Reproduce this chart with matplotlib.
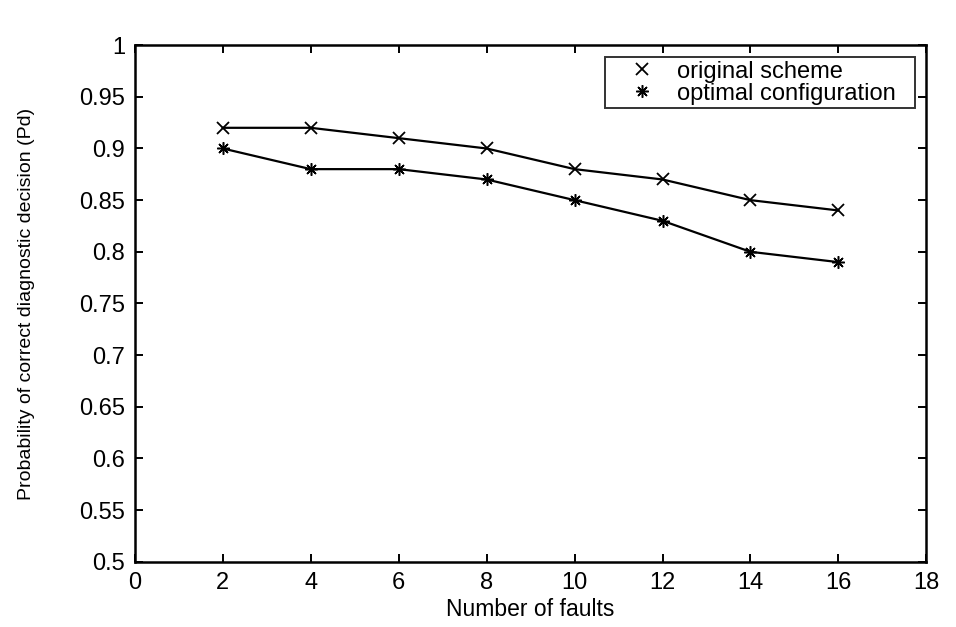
"""Probability of correct diagnostic decision vs number of faults."""
import matplotlib
matplotlib.use("Agg")
import matplotlib.pyplot as plt

plt.rcParams["font.family"] = ["Liberation Sans", "DejaVu Sans"]

faults = [2, 4, 6, 8, 10, 12, 14, 16]
pd_original = [0.92, 0.92, 0.91, 0.90, 0.88, 0.87, 0.85, 0.84]
pd_optimal = [0.90, 0.88, 0.88, 0.87, 0.85, 0.83, 0.80, 0.79]

fig = plt.figure(figsize=(9.56, 6.27), dpi=100)
ax = fig.add_axes([0.141, 0.104, 0.828, 0.824])

# lines and markers drawn separately so the legend shows markers only
ax.plot(faults, pd_original, color="black", linewidth=1.6)
ax.plot(faults, pd_optimal, color="black", linewidth=1.6)
ax.plot(faults, pd_original, "x", color="black", markersize=8,
        markeredgewidth=1.3, label="original scheme")
ax.plot(faults, pd_optimal, marker=(8, 2, 0), linestyle="none", color="black",
        markersize=9, markeredgewidth=1.1, label="optimal configuration")

ax.set_xlim(0, 18)
ax.set_ylim(0.5, 1.0)
ax.set_xticks(range(0, 19, 2))
ax.set_yticks([0.5, 0.55, 0.6, 0.65, 0.7, 0.75, 0.8, 0.85, 0.9, 0.95, 1.0])
ax.set_yticklabels(["0.5", "0.55", "0.6", "0.65", "0.7", "0.75", "0.8",
                    "0.85", "0.9", "0.95", "1"])
ax.tick_params(direction="in", top=True, right=True, length=6, width=1.4,
               labelsize=17, pad=7)
for s in ax.spines.values():
    s.set_linewidth(1.8)

ax.set_xlabel("Number of faults", fontsize=16.5, labelpad=3)
ax.set_ylabel("Probability of correct diagnostic decision (Pd)", fontsize=14,
              labelpad=32)

leg = ax.legend(loc="upper left", mode="expand", fontsize=17, frameon=True,
                fancybox=False, edgecolor="black", handlelength=2.8,
                handletextpad=0.1, borderaxespad=0, borderpad=0.15,
                labelspacing=0.0, bbox_to_anchor=(0.594, 0.0, 0.392, 0.977))
leg.get_frame().set_linewidth(1.4)

fig.savefig("out.png", dpi=100)
plt.close(fig)
